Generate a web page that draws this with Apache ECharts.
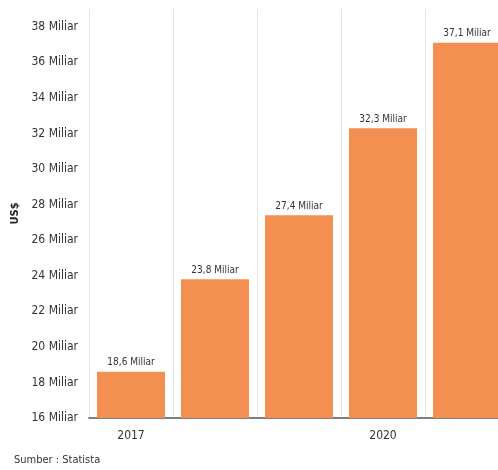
<!DOCTYPE html>
<html>
<head>
    <meta charset="UTF-8">
    <title>US$ Miliar</title>
    <script src="https://cdn.jsdelivr.net/npm/echarts/dist/echarts.min.js"></script>
    <style>
        html, body { margin: 0; padding: 0; background: #fff; }
        #main { width: 498px; height: 470px; }
    </style>
</head>
<body>
    <div id="main"></div>
    <script type="text/javascript">
        var years = ['2017', '2018', '2019', '2020', '2021'];
        var values = [18.6, 23.8, 27.4, 32.3, 37.1];
        var labelFont = '"Liberation Sans Narrow", "DejaVu Sans Condensed", sans-serif';

        var myChart = echarts.init(document.getElementById('main'));

        var option = {
            animation: false,
            textStyle: { fontFamily: labelFont },
            // the plot runs past the right edge of the picture, so the grid is wider than the canvas
            grid: { left: 89, width: 420, top: 9, bottom: 52, outerBoundsMode: 'none' },
            graphic: [{
                type: 'text',
                left: 14,
                top: 455,
                style: { text: 'Sumber : Statista', fill: '#333', font: '11px ' + labelFont }
            }],
            xAxis: {
                type: 'category',
                data: years,
                axisLine: { lineStyle: { color: '#808080', width: 2 } },
                axisTick: { alignWithLabel: true, interval: 2, length: 6, lineStyle: { color: '#444' } },
                axisLabel: { interval: 2, color: '#333', fontSize: 12, margin: 12 },
                splitLine: { show: true, interval: 0, lineStyle: { color: '#e3e3e3' } }
            },
            yAxis: {
                type: 'value',
                min: 16,
                max: 39,
                interval: 2,
                name: 'US$',
                nameLocation: 'middle',
                nameGap: 50,
                nameTextStyle: { fontWeight: 'bold', fontSize: 11, color: '#222' },
                axisLine: { show: false },
                axisTick: { show: false },
                splitLine: { show: false },
                axisLabel: {
                    color: '#333',
                    fontSize: 12,
                    margin: 11,
                    showMaxLabel: false,
                    formatter: function (v) { return v % 2 === 0 ? v + ' Miliar' : ''; }
                }
            },
            series: [{
                type: 'bar',
                data: values,
                barCategoryGap: '19%',
                itemStyle: { color: '#F38F51' },
                label: {
                    show: true,
                    position: 'top',
                    distance: 4,
                    color: '#333',
                    fontSize: 10,
                    formatter: function (p) { return String(p.value).replace('.', ',') + ' Miliar'; }
                }
            }]
        };

        myChart.setOption(option);
    </script>
</body>
</html>
